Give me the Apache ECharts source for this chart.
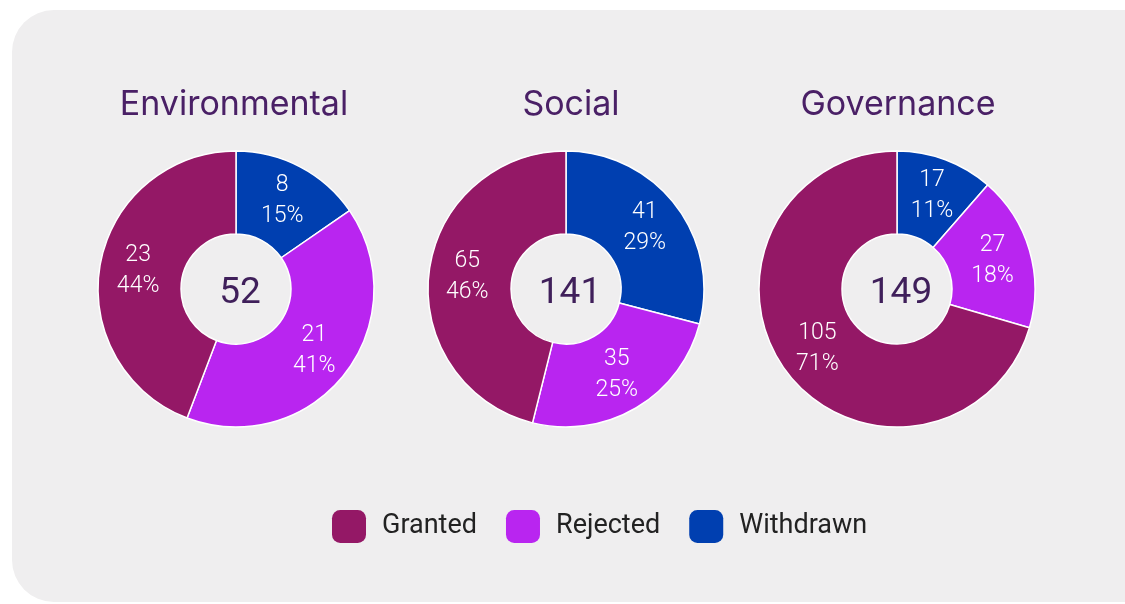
<!DOCTYPE html>
<html><head><meta charset="utf-8">
<script src="https://cdn.jsdelivr.net/npm/echarts@6/dist/echarts.min.js"></script>
<style>html,body{margin:0;padding:0;background:#fff}#c{width:1125px;height:604px}</style>
</head><body><div id="c"></div>
<script>
// Data
const groups = ['Environmental', 'Social', 'Governance'];
const statuses = ['Withdrawn', 'Rejected', 'Granted']; // clockwise from top
const legendOrder = ['Granted', 'Rejected', 'Withdrawn'];
const withdrawn = [8, 41, 17];
const rejected = [21, 35, 27];
const granted = [23, 65, 105];
const withdrawnPct = ['15%', '29%', '11%'];
const rejectedPct = ['41%', '25%', '18%'];
const grantedPct = ['44%', '46%', '71%'];

const colors = { Granted: '#941866', Rejected: '#b925f0', Withdrawn: '#003fb0' };
const centersX = [236, 566, 897];
const titleX = [229, 566, 893];
const centerY = 289;
const font = 'Roboto, "DejaVu Sans", sans-serif';
const titleFont = 'Inter, Roboto, sans-serif';

const chart = echarts.init(document.getElementById('c'));
const series = [], titles = [];
groups.forEach((g, i) => {
  const vals = [withdrawn[i], rejected[i], granted[i]];
  const pcts = [withdrawnPct[i], rejectedPct[i], grantedPct[i]];
  const total = vals.reduce((a, b) => a + b, 0);
  series.push({
    type: 'pie',
    name: g,
    center: [centersX[i], centerY],
    radius: [55, 138],
    startAngle: 90,
    clockwise: true,
    avoidLabelOverlap: false,
    silent: true,
    itemStyle: { borderColor: '#ffffff', borderWidth: 1.5 },
    label: {
      show: true, position: 'inside', color: '#ffffff',
      fontFamily: font, fontSize: 23, fontWeight: 300, lineHeight: 31,
      formatter: p => p.value + '\n' + pcts[p.dataIndex]
    },
    labelLine: { show: false },
    data: statuses.map((s, k) => ({ name: s, value: vals[k], itemStyle: { color: colors[s] } }))
  });
  titles.push({
    text: g, left: titleX[i], top: 83, textAlign: 'center',
    textStyle: { fontFamily: titleFont, fontSize: 34, fontWeight: 400, color: '#4a2066' }
  });
  titles.push({
    text: String(total), left: centersX[i] - 1, top: centerY - 19, textAlign: 'center',
    textStyle: { fontFamily: font, fontSize: 37, fontWeight: 400, color: '#3f1f5a' }
  });
});

chart.setOption({
  backgroundColor: '#ffffff',
  animation: false,
  graphic: [{
    type: 'rect', z: -10, silent: true,
    shape: { x: 12, y: 10, width: 1160, height: 592, r: 42 },
    style: { fill: '#efeeef' }
  }],
  title: titles,
  legend: {
    data: legendOrder,
    left: 327, top: 505,
    icon: 'roundRect',
    itemWidth: 34, itemHeight: 33, itemGap: 29,
    itemStyle: { borderWidth: 0 },
    textStyle: { fontFamily: font, fontSize: 27, color: '#222222', padding: [0, 0, 0, 11] }
  },
  series: series
});
</script></body></html>
